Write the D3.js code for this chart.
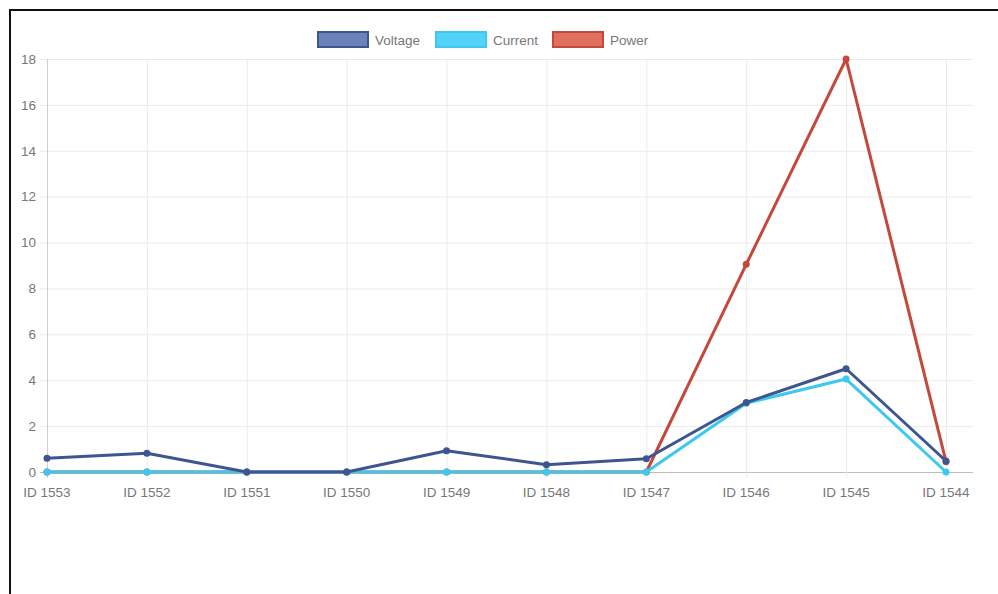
<!DOCTYPE html>
<html>
<head>
<meta charset="utf-8">
<script src="https://cdn.jsdelivr.net/npm/d3@7"></script>
<style>
  body { margin: 0; background: #fff; }
  svg { display: block; font-family: "Liberation Sans", Arial, sans-serif; }
</style>
</head>
<body>
<script>
const labels = ['ID 1553', 'ID 1552', 'ID 1551', 'ID 1550', 'ID 1549', 'ID 1548', 'ID 1547', 'ID 1546', 'ID 1545', 'ID 1544'];
const voltage = [0.6, 0.82, 0, 0, 0.93, 0.32, 0.58, 3.03, 4.5, 0.48];
const current = [0, 0, 0, 0, 0, 0, 0, 3.0, 4.05, 0];
const power = [0, 0, 0, 0, 0, 0, 0, 9.05, 18, 0.45];
const yTicks = [0, 2, 4, 6, 8, 10, 12, 14, 16, 18];

const series = [
  { name: 'Voltage', values: voltage, line: '#3d5590', fill: '#6a84b9' },
  { name: 'Current', values: current, line: '#3cc8ef', fill: '#52d3f7' },
  { name: 'Power', values: power, line: '#c4483b', fill: '#e0705c' },
];

const width = 998;
const height = 594;
const margin = { top: 59, right: 25, bottom: 122, left: 47 };
const plotRight = width - margin.right;

const svg = d3.select('body').append('svg').attr('width', width).attr('height', height);

// frame
svg.append('path')
  .attr('d', `M10,${height} V10 H${width}`)
  .attr('fill', 'none')
  .attr('stroke', '#111')
  .attr('stroke-width', 2);

const x = d3.scalePoint().domain(labels).range([margin.left, 946]);
const y = d3.scaleLinear().domain([0, 18]).range([height - margin.bottom, margin.top]);

const grid = svg.append('g');
grid.selectAll('line.h')
  .data(yTicks)
  .enter()
  .append('line')
  .attr('x1', margin.left - 7)
  .attr('x2', plotRight)
  .attr('y1', (d) => y(d) + 0.5)
  .attr('y2', (d) => y(d) + 0.5)
  .attr('stroke', (d) => (d === 0 ? '#bdbdbd' : '#ebebeb'))
  .attr('stroke-width', 1);

grid.selectAll('line.v')
  .data(labels)
  .enter()
  .append('line')
  .attr('x1', (d) => x(d) + 0.5)
  .attr('x2', (d) => x(d) + 0.5)
  .attr('y1', margin.top)
  .attr('y2', y(0) + 6)
  .attr('stroke', (d, i) => (i === 0 ? '#cfcfcf' : '#ebebeb'))
  .attr('stroke-width', 1);

// y axis labels
svg.append('g')
  .selectAll('text')
  .data(yTicks)
  .enter()
  .append('text')
  .attr('x', 36)
  .attr('y', (d) => y(d))
  .attr('dy', '0.35em')
  .attr('text-anchor', 'end')
  .attr('font-size', 13.5)
  .attr('fill', '#777')
  .text((d) => d);

// x axis labels
svg.append('g')
  .selectAll('text')
  .data(labels)
  .enter()
  .append('text')
  .attr('x', (d) => x(d))
  .attr('y', 497)
  .attr('text-anchor', 'middle')
  .attr('font-size', 13.5)
  .attr('fill', '#777')
  .text((d) => d);

const line = d3.line()
  .x((d, i) => x(labels[i]))
  .y((d) => y(d));

// chart.js draws the first dataset on top
series.slice().reverse().forEach((s) => {
  const g = svg.append('g');
  g.append('path')
    .datum(s.values)
    .attr('d', line)
    .attr('fill', 'none')
    .attr('stroke', s.line)
    .attr('stroke-width', 3)
    .attr('stroke-linejoin', 'round');
  g.selectAll('circle')
    .data(s.values)
    .enter()
    .append('circle')
    .attr('cx', (d, i) => x(labels[i]))
    .attr('cy', (d) => y(d))
    .attr('r', 3.5)
    .attr('fill', s.line);
});

// legend
const legendX = [318, 436, 553];
const legend = svg.append('g');
series.forEach((s, i) => {
  legend.append('rect')
    .attr('x', legendX[i])
    .attr('y', 32)
    .attr('width', 50)
    .attr('height', 15)
    .attr('fill', s.fill)
    .attr('stroke', s.line)
    .attr('stroke-width', 2);
  legend.append('text')
    .attr('x', legendX[i] + 57)
    .attr('y', 40)
    .attr('dy', '0.35em')
    .attr('font-size', 13.5)
    .attr('fill', '#777')
    .text(s.name);
});
</script>
</body>
</html>
